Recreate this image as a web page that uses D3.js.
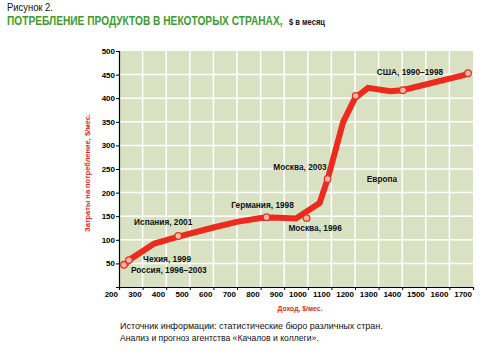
<!DOCTYPE html>
<html><head><meta charset="utf-8">
<script src="https://cdn.jsdelivr.net/npm/d3@7"></script>
<style>
body{margin:0;background:#fff;}
svg text{font-family:"Liberation Sans",Arial,Helvetica,sans-serif;}
</style></head>
<body><svg id="c" width="490" height="355"></svg>
<script>
// ---- data ----
const xTicks = [200,300,400,500,600,700,800,900,1000,1100,1200,1300,1400,1500,1600,1700];
const yTicks = [50,100,150,200,250,300,350,400,450,500];
const lineIncome = [225,245,350,460,600,700,800,850,950,1050,1085,1150,1200,1255,1350,1400,1670];
const lineSpend  = [47,58,92,108,126,138,146,147,145,178,230,350,400,422,415,417,450];
const markerIncome = [221,242,451,825,995,1084,1203,1403,1679];
const markerSpend  = [47,57,108,148,146,229,405,417,453];
const labelText = ["Россия, 1996–2003","Чехия, 1999","Испания, 2001","Германия, 1998","Москва, 1996","Москва, 2003","Европа","США, 1990–1998"];
const labelIncome = [251,302,264,676,918,854,1250,1292];
const labelSpend  = [30,53,131,167,119,248,222,449];

const svg = d3.select("#c");
const x = d3.scaleLinear().domain([200,1700]).range([119,473]);
const y = d3.scaleLinear().domain([0,500]).range([287,51]);

// fit a text horizontally to a given width with a scale transform
function fitText(px, py, width, attrs, str, rotate) {
  const g = svg.append("g");
  const t = g.append("text").text(str);
  Object.entries(attrs).forEach(([k,v])=>t.attr(k,v));
  const w = t.node().getComputedTextLength();
  const s = width / w;
  g.attr("transform", `translate(${px},${py})` + (rotate?` rotate(${rotate})`:``) + ` scale(${s},1)`);
  return t;
}

// background
svg.append("rect").attr("x",x(200)).attr("y",y(500)).attr("width",x(1700)-x(200)).attr("height",y(0)-y(500)).attr("fill","#d8e2c3");
// grid
svg.append("g").selectAll("line").data(yTicks.filter(d=>d<500)).join("line")
  .attr("x1",x(200)).attr("x2",x(1700)).attr("y1",d=>y(d)).attr("y2",d=>y(d))
  .attr("stroke","#fff").attr("stroke-width",1.5);
svg.append("g").selectAll("line").data(xTicks.filter(d=>d>200&&d<1700)).join("line")
  .attr("y1",y(0)).attr("y2",y(500)).attr("x1",d=>x(d)).attr("x2",d=>x(d))
  .attr("stroke","#fff").attr("stroke-width",1.5);

// axes
const ax = svg.append("g").attr("transform",`translate(0,${y(0)})`)
  .call(d3.axisBottom(x).tickValues(xTicks).tickFormat(d3.format("d")).tickSize(3).tickPadding(1));
const ay = svg.append("g").attr("transform",`translate(${x(200)},0)`)
  .call(d3.axisLeft(y).tickValues(yTicks).tickFormat(d3.format("d")).tickSize(3).tickPadding(1));
[ax,ay].forEach(g=>{
  g.select(".domain").attr("stroke","#000").attr("stroke-width",1.2);
  g.selectAll(".tick line").attr("stroke","#000");
  g.selectAll(".tick text").attr("font-size",8).attr("font-weight","bold").attr("fill","#000")
   .style("font-family",'"Liberation Sans",Arial,sans-serif');
});
ax.selectAll(".tick text").attr("text-anchor","end").attr("x",-1.5);

// line
const pts = lineIncome.map((v,i)=>[v,lineSpend[i]]);
svg.append("path").datum(pts)
  .attr("d",d3.line().x(d=>x(d[0])).y(d=>y(d[1])))
  .attr("fill","none").attr("stroke","#ec2a1e").attr("stroke-width",6)
  .attr("stroke-linejoin","miter").attr("stroke-linecap","butt");

// markers
svg.append("g").selectAll("circle").data(markerIncome.map((v,i)=>[v,markerSpend[i]])).join("circle")
  .attr("cx",d=>x(d[0])).attr("cy",d=>y(d[1])).attr("r",3.3)
  .attr("fill","#f7b9a4").attr("stroke","#e53222").attr("stroke-width",1.3);

// labels
svg.append("g").selectAll("text").data(labelText).join("text")
  .attr("x",(d,i)=>x(labelIncome[i])).attr("y",(d,i)=>y(labelSpend[i]))
  .attr("font-size",8.3).attr("font-weight","bold").attr("fill","#111")
  .text(d=>d);

// axis titles
fitText(300,311,45,{"text-anchor":"middle","font-size":7,"font-weight":"bold","fill":"#e0281e"},"Доход, $/мес.");
fitText(90,173,118,{"text-anchor":"middle","font-size":8,"font-weight":"bold","fill":"#e0281e"},"Затраты на потребление, $/мес.",-90);

// header
fitText(7,11,46,{"font-size":10,"fill":"#111"},"Рисунок 2.");
fitText(7,24.5,276,{"font-size":12,"font-weight":"bold","fill":"#3f9b2f"},"ПОТРЕБЛЕНИЕ ПРОДУКТОВ В НЕКОТОРЫХ СТРАНАХ,");
fitText(289,24.5,36,{"font-size":9,"font-weight":"bold","fill":"#111"},"$ в месяц");

// source
fitText(120,329,263,{"font-size":9.5,"fill":"#111"},"Источник информации: статистические бюро различных стран.");
fitText(120,341,199,{"font-size":9.5,"fill":"#111"},"Анализ и прогноз агентства «Качалов и коллеги».");
</script></body></html>
